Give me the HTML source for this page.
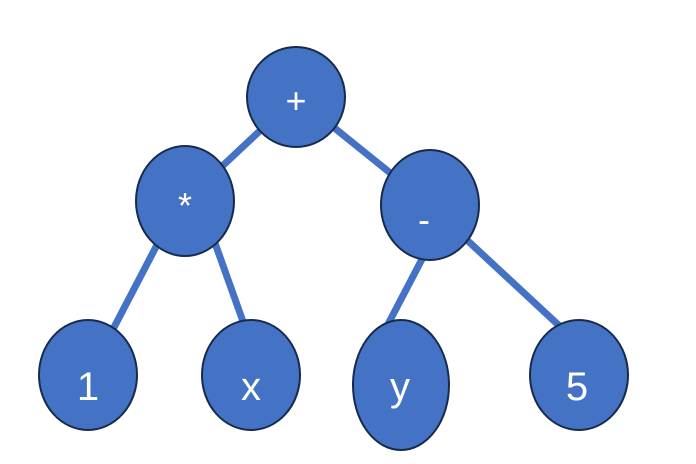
<!DOCTYPE html>
<html><head><style>html,body{margin:0;padding:0;background:#fff}</style></head>
<body>
<svg width="696" height="459" viewBox="0 0 696 459" xmlns="http://www.w3.org/2000/svg">
<g stroke="#4472C4" stroke-width="7" stroke-linecap="butt">
<line x1="296" y1="97" x2="185" y2="201"/>
<line x1="296" y1="97" x2="430" y2="205"/>
<line x1="170" y1="220" x2="110" y2="335"/>
<line x1="205" y1="215" x2="246" y2="330"/>
<line x1="432" y1="240" x2="385" y2="330"/>
<line x1="440" y1="215" x2="566" y2="332"/>
</g>
<g fill="#4472C4" stroke="#172B4D" stroke-width="2">
<ellipse cx="296" cy="97" rx="49" ry="50"/>
<ellipse cx="185" cy="201" rx="49" ry="55"/>
<ellipse cx="430" cy="205" rx="49" ry="55"/>
<ellipse cx="88" cy="375" rx="49" ry="55"/>
<ellipse cx="251" cy="375" rx="49" ry="55"/>
<ellipse cx="401" cy="385" rx="48" ry="65"/>
<ellipse cx="579" cy="375" rx="49" ry="55"/>
</g>
<g fill="#fff" font-family="Liberation Sans, sans-serif" font-size="36" text-anchor="middle">
<text x="296" y="113">+</text>
<text x="185" y="218">*</text>
<text x="424" y="232">-</text>
<text x="88" y="400" font-size="40">1</text>
<text x="251" y="400" font-size="40">x</text>
<text x="400" y="400" font-size="40">y</text>
<text x="577" y="400" font-size="40">5</text>
</g>
</svg>
</body></html>
